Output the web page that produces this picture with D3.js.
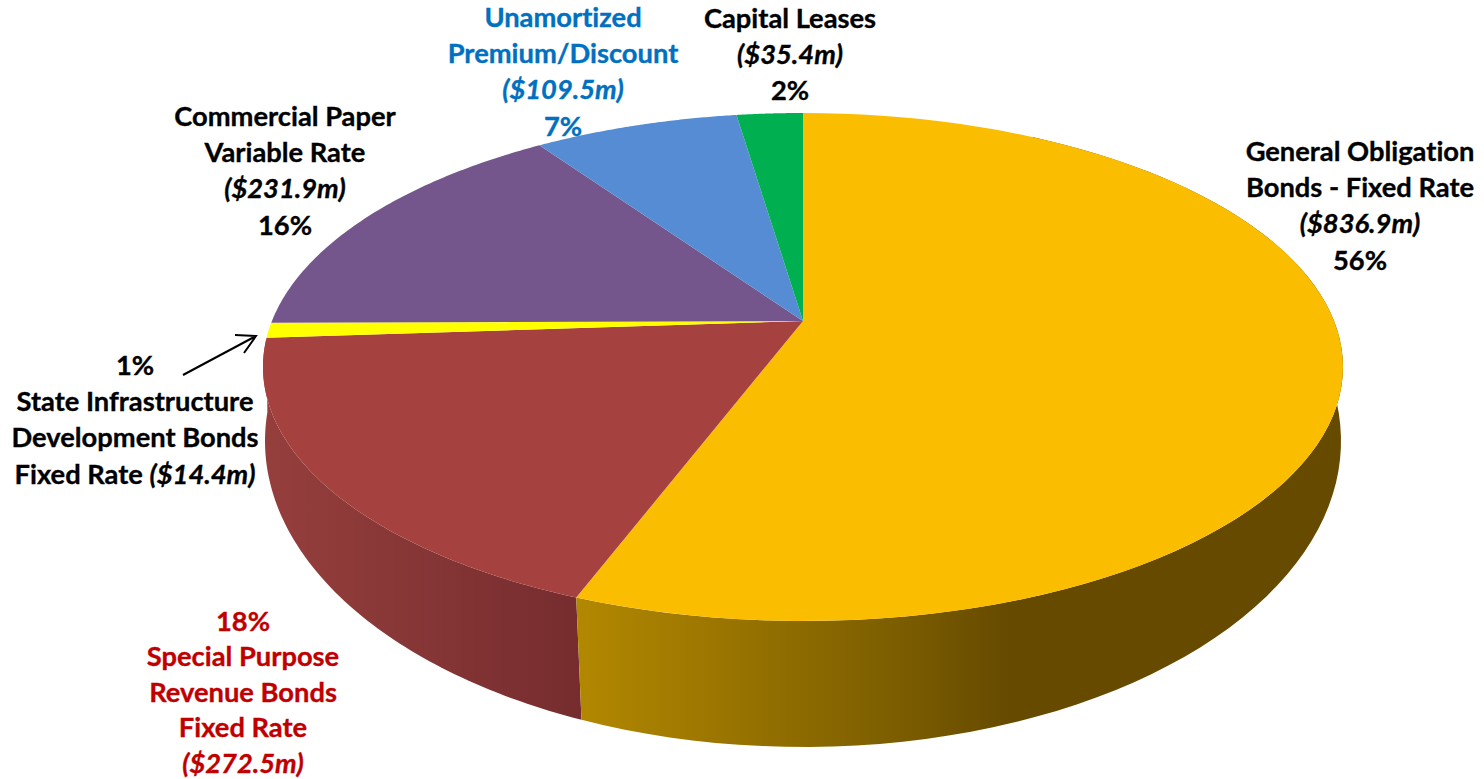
<!DOCTYPE html>
<html>
<head>
<meta charset="utf-8">
<style>
  html, body { margin: 0; padding: 0; background: #fff; }
  svg { display: block; }
  text { font-family: Lato, "Open Sans", sans-serif; font-weight: 700; font-size: 27.3px; text-anchor: middle; stroke-width: 0.35px; font-variant-ligatures: none; }
  .amount { font-style: italic; }
</style>
<script src="https://cdn.jsdelivr.net/npm/d3@7/dist/d3.min.js"></script>
</head>
<body>
<svg id="chart" width="1484" height="779"></svg>
<script>
// Debt outstanding by instrument, in millions of dollars
const categories = [
  "General Obligation Bonds - Fixed Rate",
  "Special Purpose Revenue Bonds Fixed Rate",
  "State Infrastructure Development Bonds Fixed Rate",
  "Commercial Paper Variable Rate",
  "Unamortized Premium/Discount",
  "Capital Leases"
];
const amounts = [836.9, 272.5, 14.4, 231.9, 109.5, 35.4];
const faceColors = ["#FBBD00", "#A5423F", "#FFFF00", "#74568C", "#558CD4", "#00B050"];

// Each label is a list of lines; a line marked "i" is set in italics
const labelLines = [
  [["General Obligation"], ["Bonds - Fixed Rate"], ["($836.9m)", "i"], ["56%"]],
  [["18%"], ["Special Purpose"], ["Revenue Bonds"], ["Fixed Rate"], ["($272.5m)", "i"]],
  [["1%"], ["State Infrastructure"], ["Development Bonds"], ["Fixed Rate ", "", "($14.4m)"]],
  [["Commercial Paper"], ["Variable Rate"], ["($231.9m)", "i"], ["16%"]],
  [["Unamortized"], ["Premium/Discount"], ["($109.5m)", "i"], ["7%"]],
  [["Capital Leases"], ["($35.4m)", "i"], ["2%"]]
];
const labelColors = ["#000", "#C00000", "#000", "#000", "#0070C0", "#000"];
const labelAnchors = [[1360, 161], [243, 631], [135, 375], [285, 126], [563, 27], [790, 28]];
const lineSteps = [36.2, 35.4, 36.2, 36.2, 36.2, 36.2];

// Perspective projection of the unit disc onto the screen: the top face and
// the base of the drum each get their own tilt and extent.
function tilted(cx, cy, rx, ry, k) {
  const bx = rx * Math.sqrt(1 - k * k);
  const by = ry * (1 - k * k);
  const y0 = cy + ry * k;
  const project = a => {
    const u = Math.sin(a), v = -Math.cos(a), w = 1 + k * v;
    return [cx + bx * u / w, y0 + by * v / w];
  };
  project.centre = [cx, y0];
  return project;
}
const topFace = tilted(803, 367, 540, 254, -0.181);
const baseFace = tilted(803, 441, 538, 306, -0.16);

const arcs = d3.pie().sort(null).value(d => d)(amounts);
const sweep = d3.scaleLinear().domain([0, 1]);
const samples = d3.range(0, 1.0001, 1 / 80);
const outline = d3.line();

function rim(project, a0, a1) {
  sweep.range([a0, a1]);
  return samples.map(t => project(sweep(t)));
}

const svg = d3.select("#chart");
const defs = svg.append("defs");

function wallGradient(id, x1, x2, stops) {
  const g = defs.append("linearGradient").attr("id", id)
    .attr("gradientUnits", "userSpaceOnUse")
    .attr("x1", x1).attr("x2", x2).attr("y1", 0).attr("y2", 0);
  stops.forEach(([o, c]) => g.append("stop").attr("offset", o).attr("stop-color", c));
}
wallGradient("wallGold", 577, 1010, [[0, "#B38800"], [0.7, "#7F6000"], [1, "#664A00"]]);
wallGradient("wallRed", 265, 582, [[0, "#953F3D"], [1, "#762C2E"]]);

// Drum walls: only the two front slices show a side
const walls = [
  { slice: arcs[1], from: arcs[1].startAngle, to: Math.min(arcs[1].endAngle, 4.65), fill: "url(#wallRed)" },
  { slice: arcs[0], from: Math.PI / 6, to: arcs[0].endAngle, fill: "url(#wallGold)" }
];
svg.append("g").selectAll("path").data(walls).join("path")
  .attr("fill", d => d.fill)
  .attr("d", d => outline(rim(topFace, d.from, d.to).concat(rim(baseFace, d.from, d.to).reverse())) + "Z");

// Top face of the pie, all slices meeting at the projected centre
svg.append("g").selectAll("path").data(arcs).join("path")
  .attr("fill", (d, i) => faceColors[i])
  .attr("d", d => outline([topFace.centre].concat(rim(topFace, d.startAngle, d.endAngle))) + "Z");

// Labels
const labels = svg.append("g").selectAll("g").data(categories).join("g")
  .attr("fill", (d, i) => labelColors[i])
  .attr("stroke", (d, i) => labelColors[i])
  .attr("transform", (d, i) => `translate(${labelAnchors[i][0]},${labelAnchors[i][1]})`);
labels.each(function (d, i) {
  const g = d3.select(this);
  labelLines[i].forEach((line, j) => {
    const t = g.append("text").attr("y", j * lineSteps[i]);
    if (line.length === 3) {
      t.append("tspan").text(line[0]);
      t.append("tspan").attr("class", "amount").text(line[2]);
    } else {
      t.classed("amount", line[1] === "i").text(line[0]);
    }
  });
});

// Leader arrow for the thin yellow slice
svg.append("path")
  .attr("fill", "none").attr("stroke", "#000").attr("stroke-width", 2)
  .attr("d", "M183,375L256,336M235,335L256,336L244,353");
</script>
</body>
</html>
